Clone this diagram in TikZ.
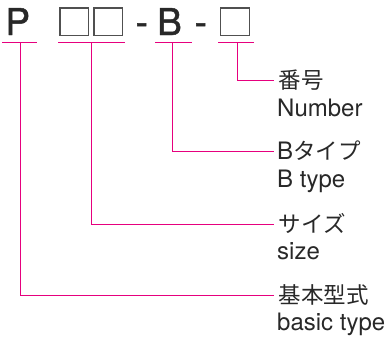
\documentclass[tikz,border=0pt]{standalone}
\usepackage{fontspec}
\setmainfont{TeX Gyre Heros}
\newfontfamily\heavy[FakeBold=1.3]{TeX Gyre Heros}
\newfontfamily\jp{Noto Sans CJK JP}
\definecolor{mag}{RGB}{230,0,126}
\definecolor{ink}{RGB}{40,40,40}
\definecolor{boxgray}{RGB}{80,80,80}
\tikzset{
  big/.style={inner sep=0pt, anchor=base west, text=ink, font=\heavy\fontsize{37}{37}\selectfont},
  sq/.style={draw=boxgray, line width=1.2pt, inner sep=0pt, minimum width=28.5pt, minimum height=27.5pt},
  jplbl/.style={inner sep=0pt, anchor=base west, text=ink, font=\jp\fontsize{22.5}{22.5}\selectfont},
  enlbl/.style={inner sep=0pt, anchor=base west, text=ink, font=\fontsize{24}{24}\selectfont},
  leader/.style={draw=mag, line width=1pt}
}
\begin{document}
\begin{tikzpicture}[x=1pt,y=-1pt]
\useasboundingbox (0,0) rectangle (387,340);
% code characters
\node[big] (P) at (5.2,35) {P};
\node[sq] (s1) at (74.2,21.7) {};
\node[sq] (s2) at (108.3,21.7) {};
\node[big] (d1) at (135.5,35) {-};
\node[big] (B) at (157,35) {B};
\node[big] (d2) at (194.5,35) {-};
\node[sq] (s3) at (235,21.7) {};
% underlines
\coordinate (uPl) at (2,42);   \coordinate (uPr) at (37,42);
\coordinate (uSl) at (58.3,42); \coordinate (uSr) at (125,42);
\coordinate (uBl) at (155,42);  \coordinate (uBr) at (192,42);
\coordinate (uNl) at (218,42);  \coordinate (uNr) at (254,42);
\draw[leader] (uPl) -- (uPr);
\draw[leader] (uSl) -- (uSr);
\draw[leader] (uBl) -- (uBr);
\draw[leader] (uNl) -- (uNr);
% stems
\coordinate (tP) at (20,42);
\coordinate (tS) at (91.7,42);
\coordinate (tB) at (172.7,42);
\coordinate (tN) at (237.3,42);
% leader ends
\coordinate (eN) at (274,80);
\coordinate (eB) at (274,151);
\coordinate (eS) at (274,224);
\coordinate (eP) at (274,295);
\draw[leader] (tN) |- (eN);
\draw[leader] (tB) |- (eB);
\draw[leader] (tS) |- (eS);
\draw[leader] (tP) |- (eP);
% labels
\node[jplbl] (jN) at (278.5,88.5) {番号};
\node[enlbl] (lN) at (277,116) {Number};
\node[jplbl] (jB) at (277,159.5) {{\fontspec{TeX Gyre Heros}\fontsize{24}{24}\selectfont B}タイプ};
\node[enlbl] (lB) at (277,187) {B type};
\node[jplbl] (jS) at (278.5,232.5) {サイズ};
\node[enlbl] (lS) at (277,259) {size};
\node[jplbl] (jP) at (278.5,303.5) {基本型式};
\node[enlbl] (lP) at (277,330) {basic type};
\end{tikzpicture}
\end{document}
